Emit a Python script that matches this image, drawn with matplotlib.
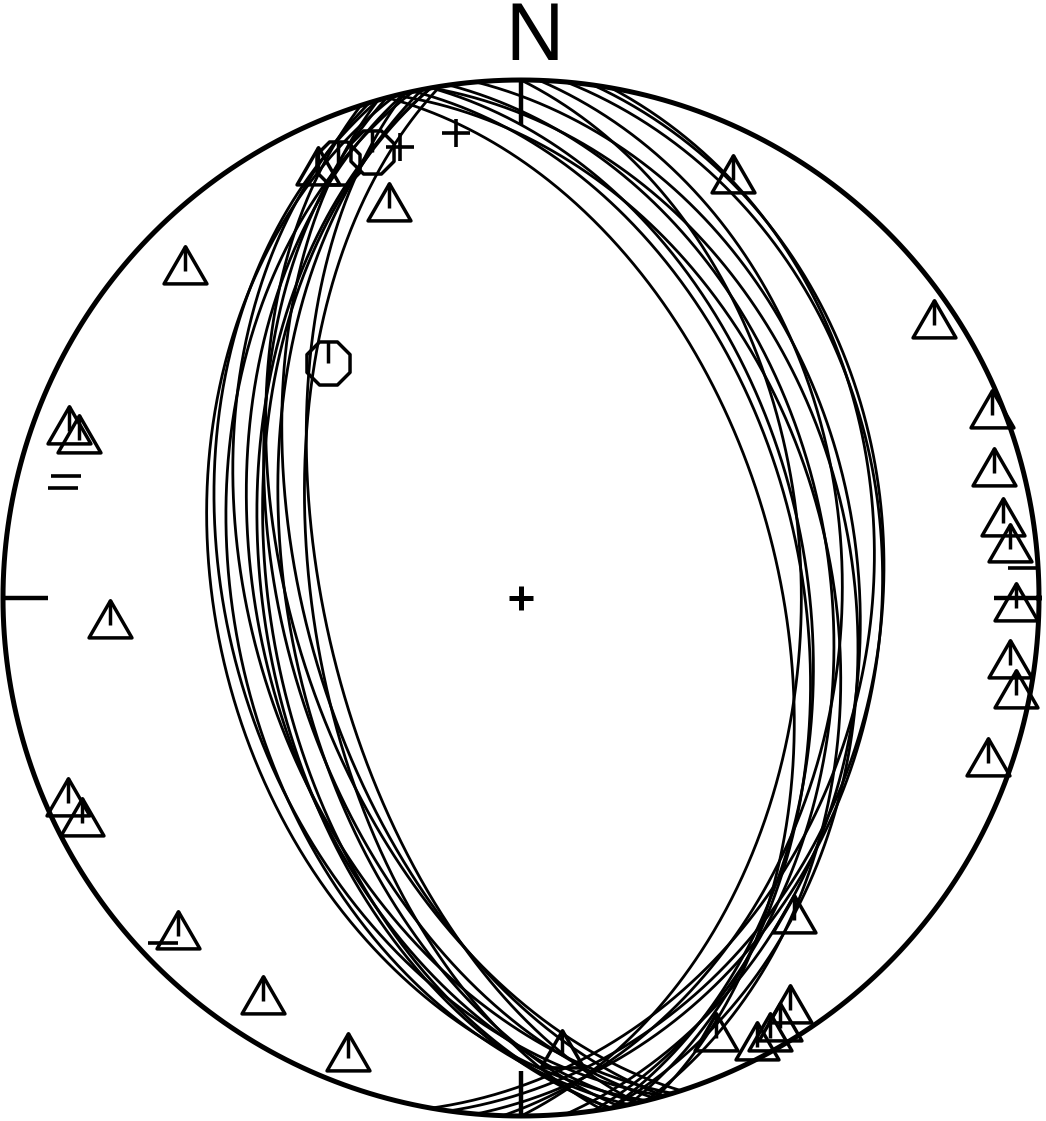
import numpy as np
import matplotlib
matplotlib.use("Agg")
import matplotlib.pyplot as plt
from matplotlib.path import Path

# ---- data (lower-hemisphere, degrees) ----
# east-dipping planes (strike by right-hand rule, dip)
east_strikes = [345, 348, 350, 346, 352, 350, 355, 5, 8, 0, 2, 10]
east_dips    = [49, 45, 44, 40, 40, 36, 35, 31, 31, 45, 38, 33]
# west-dipping planes
west_strikes = [166, 164, 168, 163, 167, 170, 165, 169, 162, 171, 167, 170, 164]
west_dips    = [41, 43, 44, 47, 48, 49, 52, 53, 54, 57, 59, 50, 56]

# triangles with tick (trend, plunge)
tri_trend  = [26.9, 56.5, 68.8, 75.2, 81.2, 84.3, 91.2, 97.8, 101.1, 109.5, 139.7, 146.9,
              148.9, 150.5, 152.3, 156.1, 174.9, 200.6, 212.6, 225.4, 245.7, 242.9,
              266.2, 290.3, 289.7, 314.2, 341.3, 334.5]
tri_plunge = [10.4, 5.0, 2.8, 6.2, 6.5, 5.7, 5.0, 5.3, 3.0, 4.9, 19.6, 5.6,
              3.5, 2.7, 2.4, 7.9, 12.4, 5.7, 8.4, 7.8, 4.5, 5.3,
              21.6, 7.7, 10.3, 10.4, 21.6, 9.8]
# octagons with tick
oct_trend  = [320.6, 337.2, 341.5]
oct_plunge = [40.9, 9.8, 10.1]
# crosses
plus_trend  = [352.0, 345.0]
plus_plunge = [10.3, 10.8]
# dashes
dash_trend  = [285.0, 283.5, 226.1, 86.6]
dash_plunge = [10.0, 10.0, 4.5, 3.3]


def ea(trend, plunge):
    t = np.radians(np.asarray(trend, float)); p = np.radians(np.asarray(plunge, float))
    r = np.sqrt(2) * np.sin((np.pi / 2 - p) / 2)
    return r * np.sin(t), r * np.cos(t)


def great_circle(strike, dip, n=500):
    s = np.radians(strike); d = np.radians(dip)
    sv = np.array([np.sin(s), np.cos(s), 0.0])
    dd = s + np.pi / 2
    dv = np.array([np.sin(dd) * np.cos(d), np.cos(dd) * np.cos(d), -np.sin(d)])
    rk = np.linspace(0, np.pi, n)
    v = np.outer(np.cos(rk), sv) + np.outer(np.sin(rk), dv)
    v[v[:, 2] > 0] *= -1
    f = 1 / np.sqrt(1 - v[:, 2])
    return v[:, 0] * f, v[:, 1] * f


W, H = 1046, 1121
CX, CY, R = 521, 598, 518.0
fig = plt.figure(figsize=(W / 100, H / 100), dpi=100)
ax = fig.add_axes([0, 0, 1, 1])
ax.set_xlim(-CX / R, (W - CX) / R)
ax.set_ylim(-(H - CY) / R, CY / R)
ax.set_aspect('equal')
ax.axis('off')

for s, d in zip(east_strikes + west_strikes, east_dips + west_dips):
    x, y = great_circle(s, d)
    ax.plot(x, y, color='black', lw=2.0, solid_capstyle='butt')

th = np.linspace(0, 2 * np.pi, 721)
ax.plot(np.cos(th), np.sin(th), color='black', lw=3.6)
tk = 45 / R
for (x0, y0, x1, y1) in [(0, 1, 0, 1 - tk), (0, -1, 0, -1 + tk), (1, 0, 1 - tk, 0), (-1, 0, -1 + tk, 0)]:
    ax.plot([x0, x1], [y0, y1], color='black', lw=3.2, solid_capstyle='butt')
ax.plot([0], [0], marker='+', ms=17, mew=3.6, color='black')

tri_path = Path([(0, 1), (-0.866, -0.5), (0.866, -0.5), (0, 1)], closed=True)
tick_path = Path([(0, 1), (0, 0)], [Path.MOVETO, Path.LINETO])
ang = np.radians(22.5 + 45 * np.arange(8))
oct_path = Path(np.c_[np.cos(ang), np.sin(ang)].tolist() + [[np.cos(ang[0]), np.sin(ang[0])]], closed=True)
otick_path = Path([(0, 0.924), (0, 0)], [Path.MOVETO, Path.LINETO])

tx, ty = ea(tri_trend, tri_plunge)
ax.plot(tx, ty, ls='none', marker=tri_path, ms=35.7, mfc='none', mec='black', mew=2.5)
ax.plot(tx, ty, ls='none', marker=tick_path, ms=35.7, mec='black', mew=2.5)
ox, oy = ea(oct_trend, oct_plunge)
ax.plot(ox, oy, ls='none', marker=oct_path, ms=31, mfc='none', mec='black', mew=2.5)
ax.plot(ox, oy, ls='none', marker=otick_path, ms=31, mec='black', mew=2.5)
qx, qy = ea(plus_trend, plus_plunge)
ax.plot(qx, qy, ls='none', marker='+', ms=20, mew=2.6, color='black')
dx, dy = ea(dash_trend, dash_plunge)
ax.plot(dx, dy, ls='none', marker='_', ms=21, mew=2.6, color='black')

ax.text(14 / R, 538 / R, 'N', ha='center', va='baseline', fontsize=58,
        family=['Liberation Sans', 'DejaVu Sans'])

fig.savefig('out.png', dpi=100)
